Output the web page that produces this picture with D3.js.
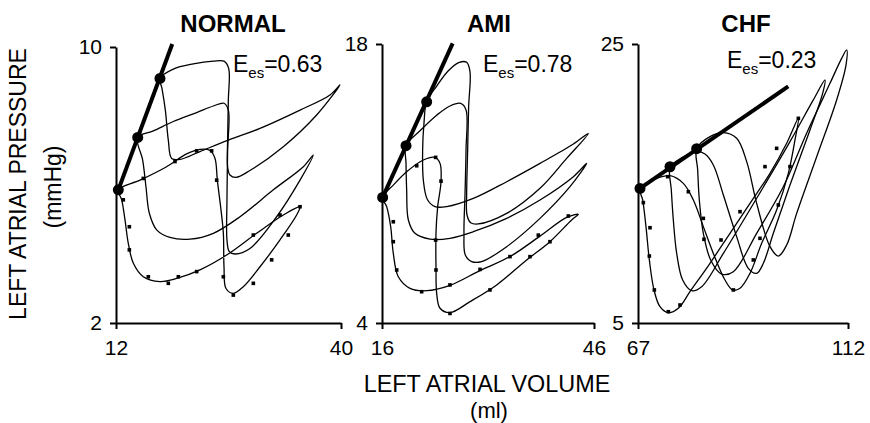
<!DOCTYPE html>
<html>
<head>
<meta charset="utf-8">
<script src="https://cdn.jsdelivr.net/npm/d3@7"></script>
<style>
  body { margin: 0; background: #fff; }
  svg { display: block; }
  text { font-family: "Liberation Sans", Arial, Helvetica, sans-serif; fill: #000; }
</style>
</head>
<body>
<svg id="chart" width="870" height="423"></svg>
<script>
// ---- Panel labels and axis ticks ----
const panelTitles = ["NORMAL", "AMI", "CHF"];
const eesValues = [0.63, 0.78, 0.23];
const volumeTicks = [[12, 40], [16, 46], [67, 112]];
const pressureTicks = [[2, 10], [4, 18], [5, 25]];

// ---- End-systolic points (volume ml, pressure mmHg) ----
const normalEsp = [[12.29, 5.86], [14.70, 7.38], [17.47, 9.09]];
const amiEsp = [[16.09, 10.30], [19.40, 12.90], [22.32, 15.10]];
const chfEsp = [[67.43, 14.65], [73.86, 16.20], [79.57, 17.50]];
// volume where each ESPVR line stops
const espvrEndVolume = [19.0, 26.0, 99.2];

// ---- NORMAL loops ----
const normalLoopA = [[12.29,5.86],[12.71,5.57],[13.12,4.99],[13.53,4.31],[14.16,3.73],[15.40,3.34],[17.47,3.20],[19.55,3.29],[22.45,3.54],[25.77,3.97],[29.50,4.60],[32.82,5.13],[34.90,5.37],[34.48,5.13],[32.41,4.41],[29.92,3.63],[27.84,3.05],[26.60,2.86],[25.69,3.00],[25.44,3.63],[25.36,4.60],[25.02,5.37],[24.61,6.14],[24.32,6.77],[23.70,7.00],[22.45,7.03],[20.79,6.90],[18.30,6.53],[14.99,6.14]];
const normalLoopB = [[14.70,7.38],[16.65,7.57],[19.13,7.84],[22.04,8.10],[24.11,8.29],[25.44,8.37],[25.98,8.17],[25.89,7.01],[25.81,5.57],[25.81,4.41],[26.10,4.07],[26.81,4.00],[28.67,4.16],[31.99,5.08],[34.90,6.14],[36.55,6.87],[35.31,6.53],[31.58,5.86],[27.43,5.08],[24.11,4.60],[21.21,4.43],[18.72,4.48],[17.06,4.70],[16.15,5.18],[15.73,5.95],[15.32,6.72]];
const normalLoopC = [[17.47,9.09],[19.13,9.36],[21.62,9.51],[24.11,9.59],[25.44,9.59],[26.02,9.38],[25.98,8.46],[25.89,7.30],[25.89,6.53],[26.18,6.29],[26.93,6.22],[28.67,6.42],[32.82,7.11],[36.97,8.03],[39.87,8.90],[38.63,8.61],[34.90,8.17],[29.92,7.64],[25.98,7.30],[22.45,6.97],[19.96,6.74],[18.93,6.77],[18.51,7.30],[18.14,8.17],[17.72,8.80]];
const normalSamples = [[12.91,5.57],[13.66,4.79],[13.66,4.12],[16.02,3.34],[18.51,3.15],[19.76,3.34],[22.04,3.49],[29.09,4.55],[32.41,5.13],[34.90,5.37],[33.44,4.55],[31.37,3.83],[29.09,3.15],[26.60,2.81],[25.36,3.34],[24.53,6.14],[23.90,6.99],[22.04,6.99],[19.34,6.68],[15.40,6.19]];

// ---- AMI loops ----
const amiLoopA = [[16.09,10.30],[16.66,9.84],[17.23,8.83],[17.60,7.49],[18.31,6.32],[19.96,5.74],[22.32,5.62],[25.62,5.89],[29.87,6.63],[34.11,7.33],[38.36,8.36],[42.13,9.30],[43.78,9.45],[42.84,9.17],[39.77,8.08],[36.47,7.16],[32.23,5.91],[28.45,5.07],[25.62,4.52],[24.21,4.74],[23.74,5.49],[23.64,6.83],[23.64,8.50],[23.88,9.84],[24.35,11.09],[24.21,12.01],[23.50,12.31],[21.85,12.18],[19.49,11.59],[17.60,10.92]];
const amiLoopB = [[19.40,12.90],[21.38,13.65],[23.74,14.43],[25.62,14.89],[27.13,15.02],[27.89,14.69],[27.89,12.68],[27.75,10.50],[27.60,8.50],[27.79,7.41],[28.69,7.08],[30.10,7.08],[33.64,7.83],[38.36,9.25],[42.60,10.84],[44.96,12.01],[43.08,11.34],[38.36,10.17],[33.64,9.25],[28.92,8.58],[25.62,8.25],[22.79,8.21],[20.67,8.50],[19.73,9.17],[19.49,10.67],[19.40,12.01]];
const amiLoopC = [[22.32,15.10],[23.74,15.89],[25.39,16.66],[26.94,17.08],[27.98,17.08],[28.45,16.61],[28.26,14.85],[28.12,12.68],[27.98,10.50],[28.03,9.42],[28.55,9.03],[29.63,8.97],[33.64,9.50],[38.36,10.76],[42.13,12.26],[45.20,13.51],[43.08,12.98],[38.36,12.01],[33.64,11.09],[28.92,10.25],[25.15,9.84],[23.50,9.84],[22.42,10.20],[21.85,11.17],[21.75,12.68],[21.94,14.02]];
const amiSamples = [[17.60,9.08],[17.60,8.08],[18.08,6.66],[21.61,5.57],[25.62,5.91],[29.87,6.69],[34.11,7.33],[38.12,8.41],[42.37,9.37],[39.77,8.08],[36.94,7.33],[31.28,5.66],[25.62,4.48],[23.64,6.66],[23.59,8.16],[24.35,11.12],[23.59,12.31],[20.91,11.89]];

// ---- CHF loops ----
const chfLoopA = [[67.43,14.65],[68.00,13.82],[68.71,11.91],[69.43,9.52],[70.43,7.37],[71.71,6.17],[73.50,5.74],[75.64,6.05],[78.14,7.25],[82.43,9.28],[86.71,11.43],[91.00,13.58],[95.29,15.73],[98.86,17.88],[101.36,19.67],[100.64,18.12],[99.21,15.73],[96.71,13.10],[93.50,10.71],[91.00,8.56],[88.86,7.49],[87.29,7.37],[85.64,8.08],[83.14,9.99],[81.00,11.91],[78.86,13.82],[76.71,15.01],[73.86,15.56],[71.00,15.37]];
const chfLoopB = [[73.86,16.20],[74.14,14.53],[74.57,12.38],[75.29,9.99],[76.57,8.08],[78.50,7.32],[80.64,7.60],[85.29,9.99],[92.43,13.94],[99.57,18.00],[104.57,20.99],[107.07,22.42],[106.57,21.46],[103.86,18.84],[99.57,14.89],[96.00,11.43],[93.86,9.28],[92.43,8.56],[90.64,8.92],[88.14,11.19],[85.29,14.18],[83.14,16.33],[81.36,17.11],[79.57,17.28],[77.43,17.04],[75.43,16.64]];
const chfLoopC = [[79.57,17.50],[79.79,15.97],[80.14,13.82],[81.00,11.43],[82.57,9.52],[84.93,8.51],[87.43,8.68],[92.43,11.43],[98.14,14.77],[103.14,18.60],[108.14,22.18],[110.64,23.97],[111.71,24.57],[111.57,23.49],[109.57,20.99],[105.29,16.92],[101.00,12.86],[98.86,10.59],[97.07,9.80],[95.29,10.47],[92.43,13.58],[90.29,16.57],[88.14,18.24],[85.29,18.64],[82.43,18.36]];
const chfSamples = [[68.14,13.63],[69.57,11.83],[69.43,9.80],[70.50,7.37],[73.50,5.81],[76.00,6.29],[84.79,10.95],[88.86,12.98],[94.21,16.21],[96.71,17.52],[101.36,19.67],[99.57,16.21],[97.07,13.46],[93.14,11.07],[91.71,9.52],[87.43,7.37],[81.14,11.00],[81.00,12.50],[77.79,14.41],[73.36,15.49]];

// ---- Panel layout (pixel frames) ----
const panelFrames = [
  { left: 116, right: 341, top: 47, bottom: 323, titleX: 233, eesX: 233, eesY: 72 },
  { left: 382, right: 594, top: 44, bottom: 323, titleX: 489, eesX: 483, eesY: 72 },
  { left: 638, right: 848, top: 44, bottom: 323, titleX: 746, eesX: 727, eesY: 68 }
];

const panels = [
  { loops: [normalLoopA, normalLoopB, normalLoopC], samples: normalSamples, esp: normalEsp },
  { loops: [amiLoopA, amiLoopB, amiLoopC], samples: amiSamples, esp: amiEsp },
  { loops: [chfLoopA, chfLoopB, chfLoopC], samples: chfSamples, esp: chfEsp }
];

const svg = d3.select("#chart");

panels.forEach((p, i) => {
  const f = panelFrames[i];
  const x = d3.scaleLinear().domain(volumeTicks[i]).range([f.left, f.right]);
  const y = d3.scaleLinear().domain(pressureTicks[i]).range([f.bottom, f.top]);
  const g = svg.append("g");

  // PV loops
  const loopLine = d3.line()
    .x(d => x(d[0])).y(d => y(d[1]))
    .curve(d3.curveCatmullRomClosed.alpha(0.5));
  g.selectAll("path.loop").data(p.loops).join("path")
    .attr("class", "loop")
    .attr("d", loopLine)
    .attr("fill", "none")
    .attr("stroke", "#000")
    .attr("stroke-width", 1.3);

  // measured samples
  g.selectAll("rect.sample").data(p.samples).join("rect")
    .attr("class", "sample")
    .attr("x", d => x(d[0]) - 1.8).attr("y", d => y(d[1]) - 1.8)
    .attr("width", 3.6).attr("height", 3.6)
    .attr("fill", "#000");

  // ESPVR line with slope Ees through the first end-systolic point
  const v0 = p.esp[0][0], p0 = p.esp[0][1];
  const v1 = espvrEndVolume[i];
  g.append("line")
    .attr("x1", x(v0)).attr("y1", y(p0))
    .attr("x2", x(v1)).attr("y2", y(p0 + eesValues[i] * (v1 - v0)))
    .attr("stroke", "#000").attr("stroke-width", 4).attr("stroke-linecap", "butt");

  g.selectAll("circle.esp").data(p.esp).join("circle")
    .attr("class", "esp")
    .attr("cx", d => x(d[0])).attr("cy", d => y(d[1]))
    .attr("r", 5.5).attr("fill", "#000");

  // axes
  const yAxis = d3.axisLeft(y).tickValues(pressureTicks[i]).tickFormat(d3.format("d"))
    .tickSize(6).tickSizeOuter(0).tickPadding(8);
  const xAxis = d3.axisBottom(x).tickValues(volumeTicks[i]).tickFormat(d3.format("d"))
    .tickSize(6).tickSizeOuter(0).tickPadding(11);
  const ya = g.append("g").attr("transform", `translate(${f.left},0)`).call(yAxis);
  const xa = g.append("g").attr("transform", `translate(0,${f.bottom})`).call(xAxis);
  [ya, xa].forEach(a => {
    a.selectAll("path, line").attr("stroke", "#000").attr("stroke-width", 2);
    a.selectAll("text").attr("font-size", 21).attr("font-family", null).attr("fill", "#000");
  });

  // title
  svg.append("text").attr("x", f.titleX).attr("y", 32)
    .attr("text-anchor", "middle").attr("font-size", 24).attr("font-weight", "bold")
    .text(panelTitles[i]);

  // Ees label
  const t = svg.append("text").attr("x", f.eesX).attr("y", f.eesY).attr("font-size", 23);
  t.append("tspan").text("E");
  t.append("tspan").attr("font-size", 15).attr("dy", 6).text("es");
  t.append("tspan").attr("dy", -6).text("=" + eesValues[i].toFixed(2));
});

// shared axis titles
svg.append("text").attr("x", 487).attr("y", 392)
  .attr("text-anchor", "middle").attr("font-size", 23.4).text("LEFT ATRIAL VOLUME");
svg.append("text").attr("x", 489).attr("y", 418)
  .attr("text-anchor", "middle").attr("font-size", 22).text("(ml)");
svg.append("text").attr("transform", "translate(26,184) rotate(-90)")
  .attr("text-anchor", "middle").attr("font-size", 23).text("LEFT ATRIAL PRESSURE");
svg.append("text").attr("transform", "translate(61,187) rotate(-90)")
  .attr("text-anchor", "middle").attr("font-size", 23).text("(mmHg)");
</script>
</body>
</html>
